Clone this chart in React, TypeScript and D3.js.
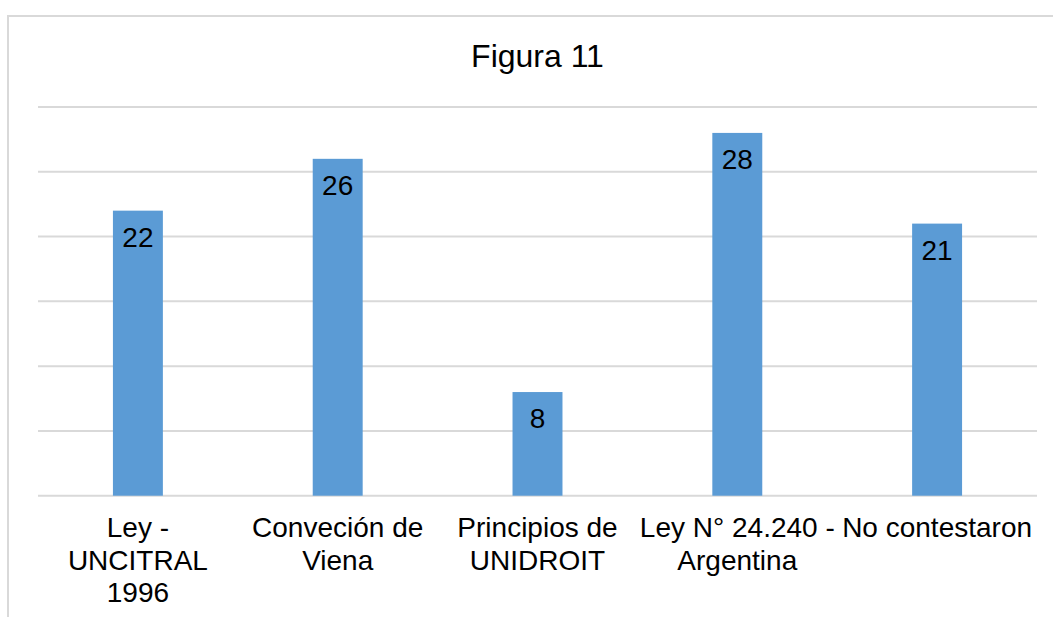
import * as d3 from "d3";
import { useEffect, useRef } from "react";

// chart data
const categories = [
  "Ley - UNCITRAL 1996",
  "Conveción de Viena",
  "Principios de UNIDROIT",
  "Ley N° 24.240 - Argentina",
  "No contestaron",
];
// how excel wrapped the category labels
const categoryLines = [
  ["Ley -", "UNCITRAL", "1996"],
  ["Conveción de", "Viena"],
  ["Principios de", "UNIDROIT"],
  ["Ley N° 24.240 -", "Argentina"],
  ["No contestaron"],
];
const values = [22, 26, 8, 28, 21];
const yTicks = [0, 5, 10, 15, 20, 25, 30];

export default function App() {
  const ref = useRef<SVGSVGElement>(null);

  useEffect(() => {
    const svg = d3.select(ref.current);
    svg.selectAll("*").remove();

    const width = 1053;
    const height = 617;
    const font = "'Liberation Sans', Arial, sans-serif";
    const left = 38;
    const right = 1037;
    const bottom = 495.7;
    const top = 107;

    svg.attr("width", width).attr("height", height);

    // outer frame (only top/left visible in the crop)
    svg
      .append("rect")
      .attr("x", 8)
      .attr("y", 16)
      .attr("width", width + 20)
      .attr("height", height + 20)
      .attr("fill", "white")
      .attr("stroke", "#d9d9d9")
      .attr("stroke-width", 2);

    const x = d3.scaleBand().domain(categories).range([left, right]).padding(0);
    const y = d3.scaleLinear().domain([0, 30]).range([bottom, top]);

    // gridlines
    svg
      .append("g")
      .selectAll("line")
      .data(yTicks)
      .enter()
      .append("line")
      .attr("x1", left)
      .attr("x2", right)
      .attr("y1", (d) => y(d))
      .attr("y2", (d) => y(d))
      .attr("stroke", "#d9d9d9")
      .attr("stroke-width", 2);

    const barW = x.bandwidth() * 0.25;

    // bars
    svg
      .append("g")
      .selectAll("rect")
      .data(values)
      .enter()
      .append("rect")
      .attr("x", (d, i) => x(categories[i])! + x.bandwidth() / 2 - barW / 2)
      .attr("y", (d) => y(d))
      .attr("width", barW)
      .attr("height", (d) => y(0) - y(d))
      .attr("fill", "#5b9bd5");

    // data labels (inside end)
    svg
      .append("g")
      .selectAll("text")
      .data(values)
      .enter()
      .append("text")
      .attr("x", (d, i) => x(categories[i])! + x.bandwidth() / 2)
      .attr("y", (d) => y(d) + 36)
      .attr("text-anchor", "middle")
      .attr("font-family", font)
      .attr("font-size", 28)
      .attr("fill", "#000")
      .text((d) => d);

    // category labels
    const cat = svg
      .append("g")
      .selectAll("text")
      .data(categoryLines)
      .enter()
      .append("text")
      .attr("text-anchor", "middle")
      .attr("font-family", font)
      .attr("font-size", 28)
      .attr("fill", "#000");

    cat
      .selectAll("tspan")
      .data((d, i) => d.map((line) => ({ line, i })))
      .enter()
      .append("tspan")
      .attr("x", (d) => x(categories[d.i])! + x.bandwidth() / 2)
      .attr("y", (d, j) => 537 + j * 32.5)
      .text((d) => d.line);

    // title
    svg
      .append("text")
      .attr("x", (left + right) / 2)
      .attr("y", 67)
      .attr("text-anchor", "middle")
      .attr("font-family", font)
      .attr("font-size", 32)
      .attr("fill", "#000")
      .text("Figura 11");
  }, []);

  return (
    <svg
      ref={ref}
      style={{ position: "absolute", left: 0, top: 0, display: "block" }}
    ></svg>
  );
}
